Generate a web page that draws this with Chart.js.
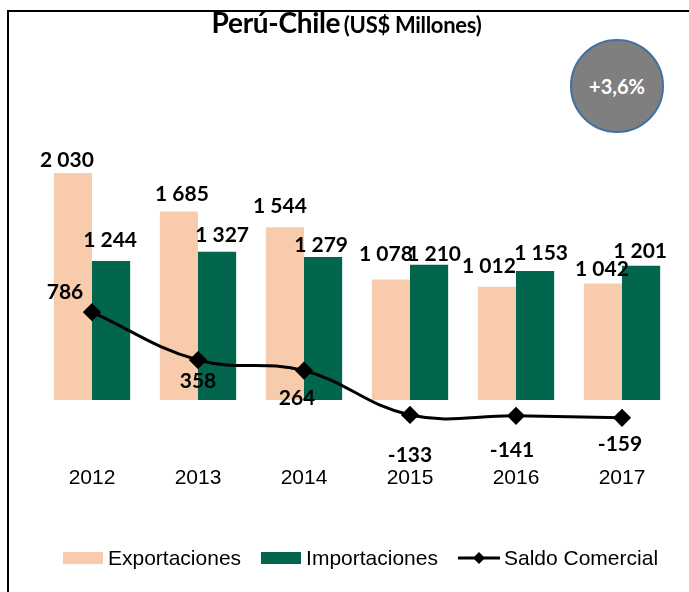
<!DOCTYPE html>
<html>
<head>
<meta charset="utf-8">
<script src="https://cdn.jsdelivr.net/npm/chart.js@4.4.0/dist/chart.umd.min.js"></script>
<style>
  body { margin: 0; background: #fff; }
  #wrap { position: relative; width: 689px; height: 592px; overflow: hidden; }
  #frame { position: absolute; left: 7px; top: 10px; width: 720px; height: 620px; border-top: 2px solid #000; border-left: 2px solid #000; }
  #title { position: absolute; top: 5px; left: 2px; width: 689px; text-align: center; font-family: Lato, sans-serif; font-weight: bold; color: #000; white-space: nowrap; letter-spacing: -0.3px; }
  #title .big { font-size: 28px; }
  #title .small { font-size: 22px; }
  #badge { position: absolute; left: 570px; top: 39px; width: 94px; height: 94px; border-radius: 50%; background: #7f7f7f; border: 2px solid #41719c; box-sizing: border-box; color: #fff; font-family: Lato, sans-serif; font-weight: bold; font-size: 20px; display: flex; align-items: center; justify-content: center; }
  #legend { position: absolute; top: 546px; left: 63px; display: flex; align-items: center; font-family: "Liberation Sans", Arial, sans-serif; font-size: 21px; color: #000; white-space: nowrap; }
  #legend .item { display: flex; align-items: center; margin-right: 20px; }
  #legend .box { width: 40px; height: 12px; margin-right: 5px; }
  #legend svg { margin-right: 4px; }
  canvas { position: absolute; left: 0; top: 0; }
</style>
</head>
<body>
<div id="wrap">
  <canvas id="chart" width="689" height="592"></canvas>
  <div id="frame"></div>
  <div id="title"><span class="big">Perú-Chile</span> <span class="small">(US$ Millones)</span></div>
  <div id="badge">+3,6%</div>
  <div id="legend">
    <div class="item"><span class="box" style="background:#f8cbad"></span>Exportaciones</div>
    <div class="item"><span class="box" style="background:#02664e"></span>Importaciones</div>
    <div class="item"><svg width="42" height="16"><line x1="0" y1="8" x2="42" y2="8" stroke="#000" stroke-width="3"/><polygon points="21,2 27,8 21,14 15,8" fill="#000"/></svg>Saldo Comercial</div>
  </div>
</div>
<script>
const years = ['2012', '2013', '2014', '2015', '2016', '2017'];
const exportaciones = [2030, 1685, 1544, 1078, 1012, 1042];
const importaciones = [1244, 1327, 1279, 1210, 1153, 1201];
const saldo = [786, 358, 264, -133, -141, -159];

function fmt(v) {
  const s = String(Math.abs(v)).replace(/\B(?=(\d{3})+(?!\d))/g, ' ');
  return (v < 0 ? '-' : '') + s;
}

// label nudges per dataset (pixels), as placed in the original
const labelShift = [
  { dx: [-6, 3, -5, -5, -8, -1], dy: [-13, -17, -21, -25, -21, -14] },
  { dx: [-1, 5, -2, 5, 6, -1], dy: [-21, -16, -12, -10, -18, -14] },
  { dx: [-27, 0, -7, 0, -4, -2], dy: [-20, 21, 28, 40, 34, 26] }
];

const valueLabels = {
  id: 'valueLabels',
  afterDatasetsDraw(chart) {
    const ctx = chart.ctx;
    ctx.save();
    ctx.font = 'bold 21px Lato, sans-serif';
    ctx.fillStyle = '#000';
    ctx.textAlign = 'center';
    ctx.textBaseline = 'middle';
    chart.data.datasets.forEach((ds, i) => {
      const meta = chart.getDatasetMeta(i);
      meta.data.forEach((el, j) => {
        const sh = labelShift[i];
        ctx.fillText(fmt(ds.data[j]), el.x + sh.dx[j], el.y + sh.dy[j]);
      });
    });
    ctx.restore();
  }
};

new Chart(document.getElementById('chart'), {
  data: {
    labels: years,
    datasets: [
      { type: 'bar', label: 'Exportaciones', data: exportaciones, backgroundColor: '#f8cbad', order: 1, categoryPercentage: 0.72, barPercentage: 1.0 },
      { type: 'bar', label: 'Importaciones', data: importaciones, backgroundColor: '#02664e', order: 1, categoryPercentage: 0.72, barPercentage: 1.0 },
      { type: 'line', label: 'Saldo Comercial', data: saldo, borderColor: '#000', borderWidth: 3, tension: 0.4,
        pointStyle: 'rectRot', pointRadius: 7, pointBackgroundColor: '#000', pointBorderColor: '#000', order: 0 }
    ]
  },
  options: {
    responsive: false,
    animation: false,
    layout: { padding: { left: 39, right: 14, top: 154, bottom: 80 } },
    plugins: { legend: { display: false }, title: { display: false }, tooltip: { enabled: false } },
    scales: {
      x: {
        grid: { display: false, drawTicks: false },
        border: { display: false },
        ticks: { color: '#000', padding: 21, maxRotation: 0, font: { family: '"Liberation Sans", Arial, sans-serif', size: 21 } }
      },
      y: { display: false, min: -400, max: 2200 }
    }
  },
  plugins: [valueLabels]
});
</script>
</body>
</html>
